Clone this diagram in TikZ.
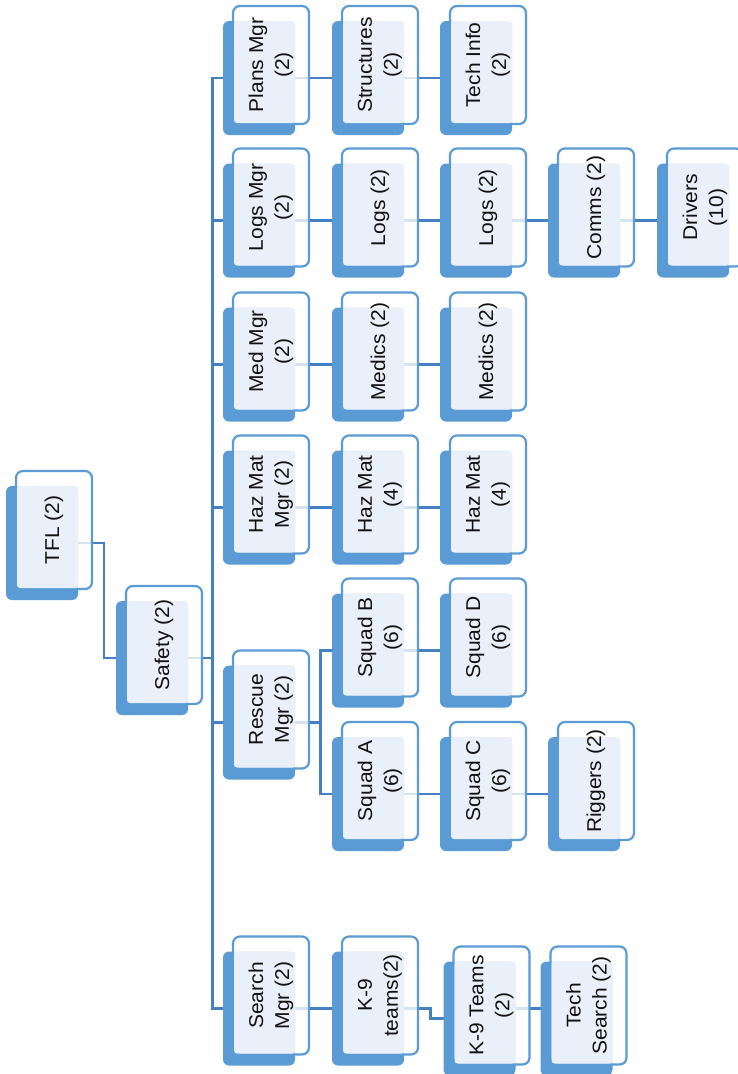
\documentclass[tikz,border=0pt]{standalone}
\usepackage{fontspec}
\newfontfamily\boxfont[FakeStretch=1.05]{Liberation Sans}
\usetikzlibrary{calc}

\definecolor{deepblue}{HTML}{5B9BD5}
\definecolor{linkblue}{HTML}{4581C2}
\definecolor{panelblue}{HTML}{E9F0F9}
\definecolor{inkgray}{HTML}{111111}

\pgfdeclarelayer{canvas}
\pgfdeclarelayer{links}
\pgfsetlayers{canvas,links,main}

\tikzset{
  shadowbox/.style={draw=none, fill=deepblue, rounded corners=6pt,
    minimum width=72pt, minimum height=114pt, inner sep=0pt, outer sep=0pt},
  framebox/.style={draw=deepblue, line width=2.2pt, fill=white, fill opacity=0.78,
    rounded corners=7pt, minimum width=76pt, minimum height=118pt, inner sep=0pt, outer sep=0pt},
  panel/.style={fill=panelblue, rounded corners=3pt},
  caption/.style={rotate=90, align=center, text=inkgray, inner sep=0pt,
    font=\boxfont\fontsize{20}{26}\selectfont},
  link/.style={draw=linkblue, line width=2.8pt},
}

% one chart unit: dark backing card, outlined card, tinted panel and label
% #1 name, #2 x, #3 y (centre of the outlined card), #4 label
\newcommand\orgbox[4]{%
  \node[shadowbox] (#1-s) at ({#2-12},{#3+13}) {};
  \node[framebox] (#1-f) at (#2,#3) {};
  \path[panel] ({#2-37},{#3-44}) rectangle ({#2+24},{#3+58});
  \node[caption] (#1) at (#2,#3) {#4};
}

\begin{document}
\begin{tikzpicture}[x=1pt,y=-1pt]
\useasboundingbox (0,0) rectangle (738,1074);
\begin{pgfonlayer}{canvas}
  \fill[white] (0,0) rectangle (738,1074);
\end{pgfonlayer}

% top of the chart
\orgbox{tfl}{54}{530}{TFL (2)}
\orgbox{safety}{164}{645}{Safety (2)}

% plans branch
\orgbox{plans}{271}{65}{Plans Mgr\\(2)}
\orgbox{struct}{380}{65}{Structures\\(2)}
\orgbox{techinfo}{488}{65}{Tech Info\\(2)}

% logistics branch
\orgbox{logsmgr}{271}{207.5}{Logs Mgr\\(2)}
\orgbox{logsa}{380}{207.5}{Logs (2)}
\orgbox{logsb}{488}{207.5}{Logs (2)}
\orgbox{comms}{596}{207.5}{Comms (2)}
\orgbox{drivers}{705}{207.5}{Drivers\\(10)}

% medical branch
\orgbox{medmgr}{271}{351.5}{Med Mgr\\(2)}
\orgbox{medicsa}{380}{351.5}{Medics (2)}
\orgbox{medicsb}{488}{351.5}{Medics (2)}

% hazardous materials branch
\orgbox{hazmgr}{271}{494.5}{Haz Mat\\Mgr (2)}
\orgbox{haza}{380}{494.5}{Haz Mat\\(4)}
\orgbox{hazb}{488}{494.5}{Haz Mat\\(4)}

% rescue branch
\orgbox{rescue}{271}{709.5}{Rescue\\Mgr (2)}
\orgbox{squadb}{380}{637.5}{Squad B\\(6)}
\orgbox{squadd}{488}{637.5}{Squad D\\(6)}
\orgbox{squada}{380}{781}{Squad A\\(6)}
\orgbox{squadc}{488}{781}{Squad C\\(6)}
\orgbox{riggers}{596}{781}{Riggers (2)}

% search branch
\orgbox{search}{271}{995.5}{Search\\Mgr (2)}
\orgbox{kteams}{380}{995.5}{K-9\\teams(2)}
\orgbox{kteamsb}{491.5}{1005.5}{K-9 Teams\\(2)}
\orgbox{techsearch}{588.5}{1005.5}{Tech\\Search (2)}

\begin{pgfonlayer}{links}
  \coordinate (j0) at ($(tfl-f.east)!.5!(safety-s.west)$);
  \draw[link] (tfl-s.center) -| (j0 |- safety-s.west) -- (safety-s.west);

  \coordinate (bus) at ($(safety-f.east)!.5!(plans-s.west)$);
  \foreach \c in {plans,logsmgr,medmgr,hazmgr,rescue,search}
    \draw[link] (safety-s.center) -| (bus |- \c-s.west) -- (\c-s.west);

  \foreach \a/\b in {plans/struct, struct/techinfo,
                     logsmgr/logsa, logsa/logsb, logsb/comms, comms/drivers,
                     medmgr/medicsa, medicsa/medicsb,
                     hazmgr/haza, haza/hazb,
                     squadb/squadd, squada/squadc, squadc/riggers,
                     search/kteams}
    \draw[link] (\a-s.center) -- (\b-s.west);

  \coordinate (rj) at ($(rescue-f.east)!.5!(squadb-s.west)$);
  \foreach \c in {squadb,squada}
    \draw[link] (rescue-s.center) -| (rj |- \c-s.west) -- (\c-s.west);

  \coordinate (kj) at ($(kteams-f.east)!.5!(kteamsb-s.west)$);
  \draw[link] (kteams-s.center) -| (kj |- kteamsb-s.west) -- (kteamsb-s.west);
  \draw[link] (kteamsb-s.center |- kteams-s.center) -- (techsearch-s.west |- kteams-s.center);
\end{pgfonlayer}
\end{tikzpicture}
\end{document}
